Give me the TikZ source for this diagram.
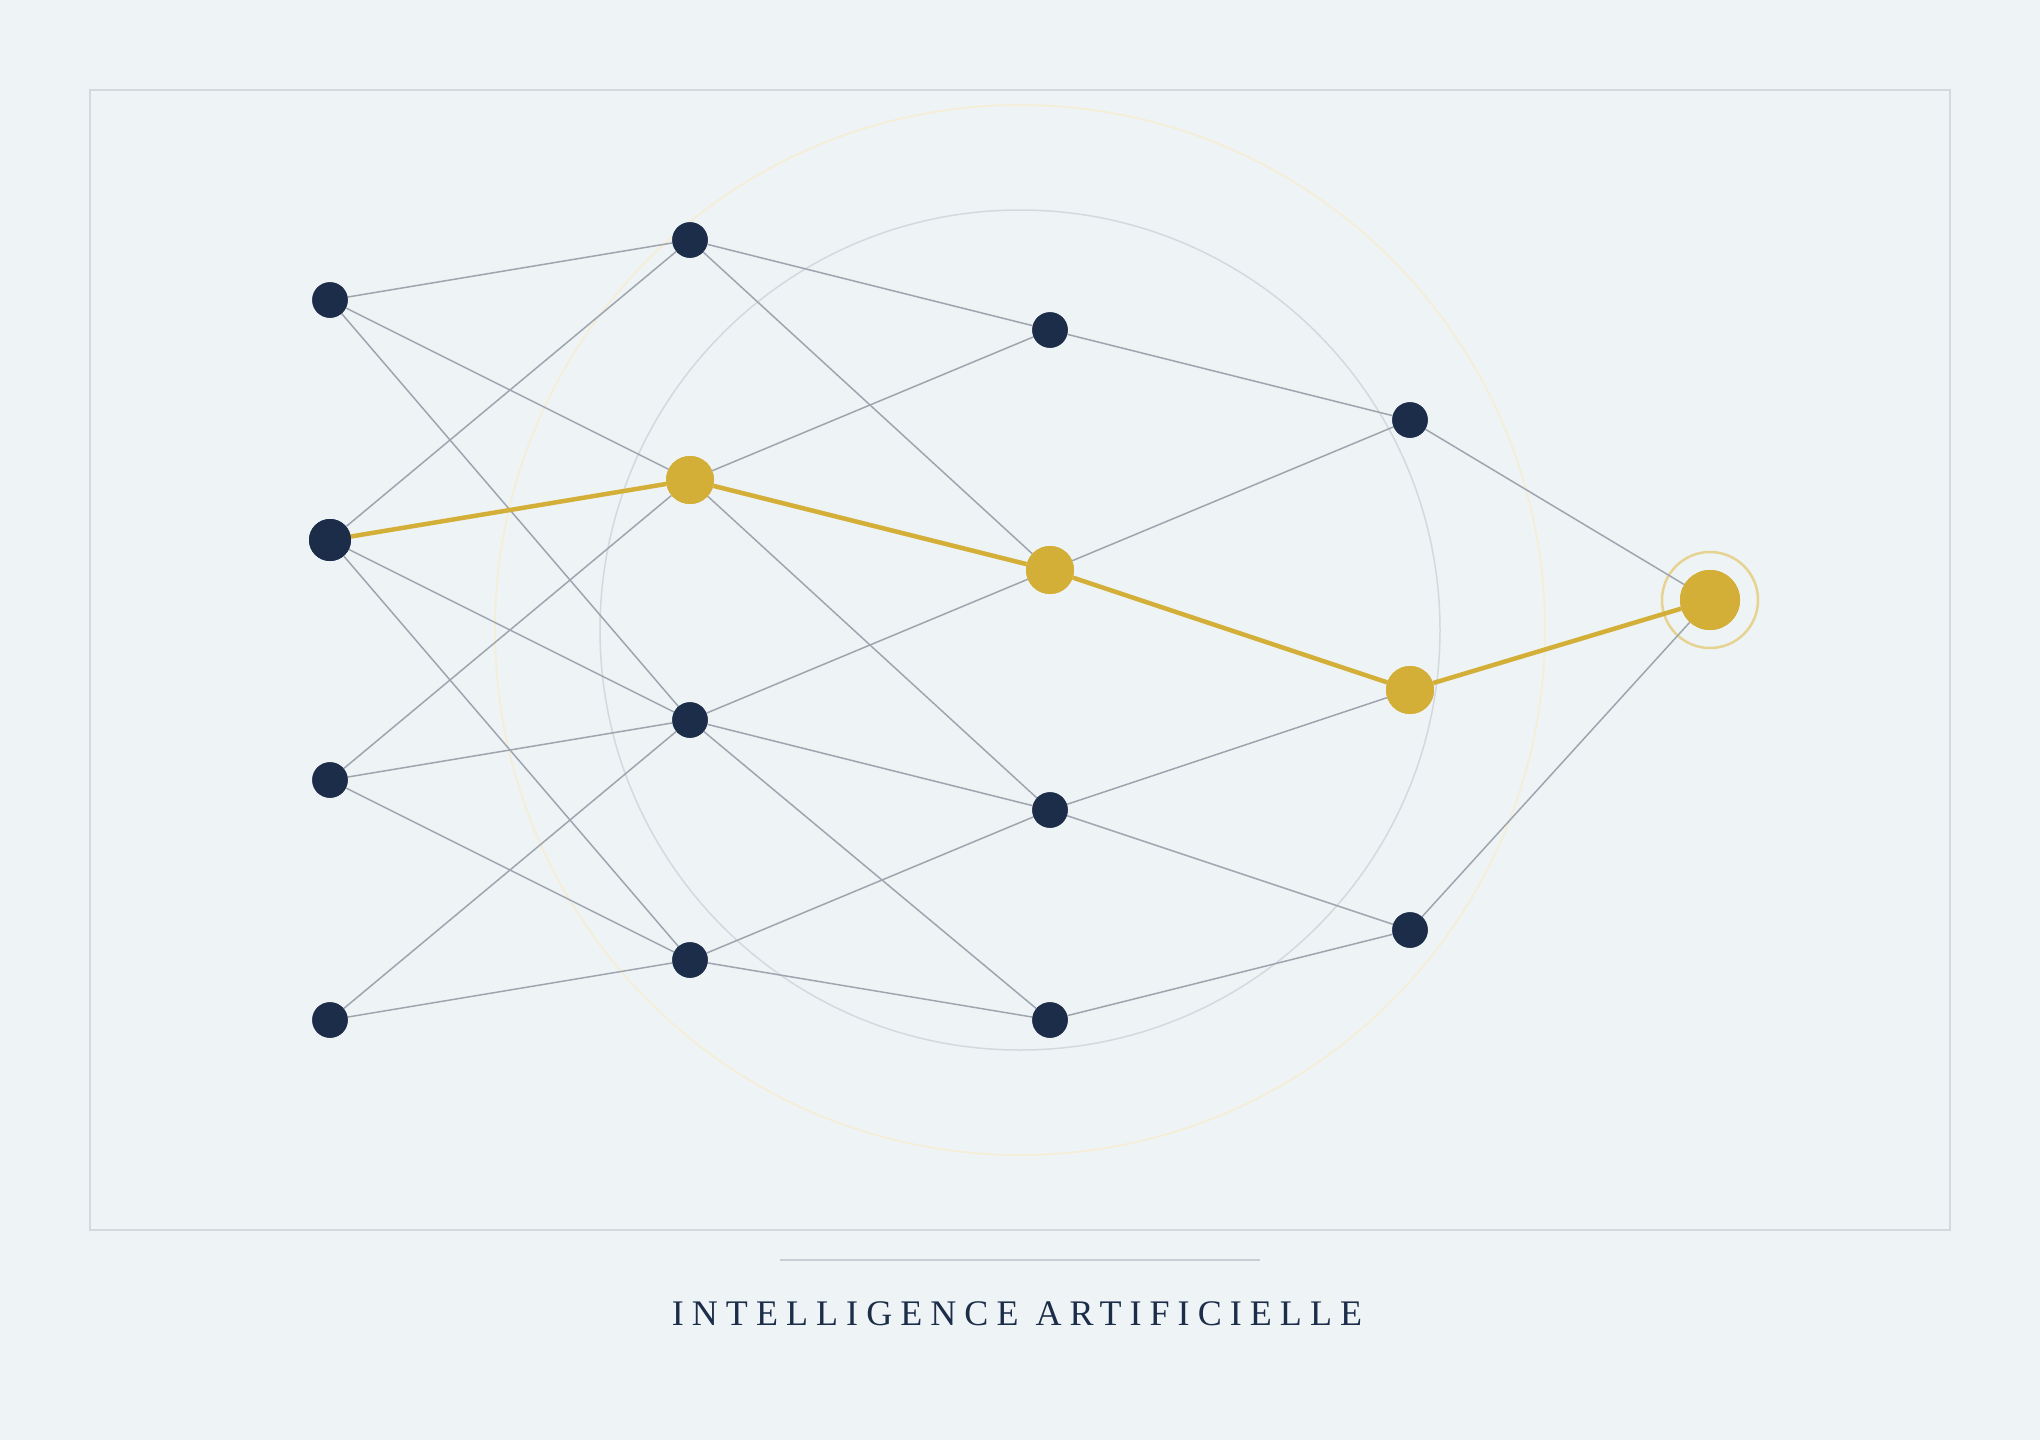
\documentclass[tikz,border=0pt]{standalone}
\usepackage{fontspec}
\setmainfont{Liberation Serif}
\newfontfamily\titlefont[LetterSpace=22.4]{Liberation Serif}
\usepackage{tikz}
\usetikzlibrary{positioning}
\definecolor{navy}{HTML}{1C2D4A}
\definecolor{gold}{HTML}{D4AF37}
\definecolor{wire}{HTML}{9EA5AE}
\definecolor{paper}{HTML}{EEF3F6}
\definecolor{frame}{HTML}{D3D9DE}
\tikzset{
    neuron/.style={circle, fill=navy, inner sep=0pt, minimum size=35.5pt},
    hot/.style={circle, fill=gold, inner sep=0pt, minimum size=48pt},
    link/.style={draw=wire, line width=1.5pt},
    path/.style={draw=gold, line width=4.5pt}}

\begin{document}
\begin{tikzpicture}[x=1pt,y=-1pt]
    \useasboundingbox[fill=paper] (0,0) rectangle (2040,1440);
    % background rings and frame
    \draw[gold!22, line width=1.5pt] (1020,630) circle (525);
    \draw[frame, line width=1.5pt] (1020,630) circle (420);
    \draw[frame, line width=2pt] (90,90) rectangle (1950,1230);

    \node[neuron] (l1-1) at (330,300) {};
    \node[neuron, minimum size=42pt] (l1-2) at (330,540) {};
    \node[neuron] (l1-3) at (330,780) {};
    \node[neuron] (l1-4) at (330,1020) {};

    \node[neuron] (l2-1) at (690,240) {};
    \node[hot] (l2-2) at (690,480) {};
    \node[neuron] (l2-3) at (690,720) {};
    \node[neuron] (l2-4) at (690,960) {};

    \node[neuron] (l3-1) at (1050,330) {};
    \node[hot] (l3-2) at (1050,570) {};
    \node[neuron] (l3-3) at (1050,810) {};
    \node[neuron] (l3-4) at (1050,1020) {};

    \node[neuron] (l4-1) at (1410,420) {};
    \node[hot] (l4-2) at (1410,690) {};
    \node[neuron] (l4-3) at (1410,930) {};

    \node[hot, minimum size=60pt] (out) at (1710,600) {};
    \node[circle, draw=gold!55, line width=2.5pt, minimum size=96pt] (halo) at (out) {};

    \path[link]
    (l1-1) edge (l2-1) (l1-1) edge (l2-2) (l1-1) edge (l2-3)
    (l1-2) edge (l2-1) (l1-2) edge (l2-3) (l1-2) edge (l2-4)
    (l1-3) edge (l2-2) (l1-3) edge (l2-3) (l1-3) edge (l2-4)
    (l1-4) edge (l2-3) (l1-4) edge (l2-4)
    (l2-1) edge (l3-1) (l2-1) edge (l3-2)
    (l2-2) edge (l3-1) (l2-2) edge (l3-3)
    (l2-3) edge (l3-2) (l2-3) edge (l3-3) (l2-3) edge (l3-4)
    (l2-4) edge (l3-3) (l2-4) edge (l3-4)
    (l3-1) edge (l4-1)
    (l3-2) edge (l4-1)
    (l3-3) edge (l4-2) (l3-3) edge (l4-3)
    (l3-4) edge (l4-3)
    (l4-1) edge (out)
    (l4-3) edge (out);

    \path[path]
    (l1-2) edge (l2-2)
    (l2-2) edge (l3-2)
    (l3-2) edge (l4-2)
    (l4-2) edge (out);

    % redraw nodes above the wires
    \foreach \n in {l1-1,l1-3,l1-4,l2-1,l2-3,l2-4,l3-1,l3-3,l3-4,l4-1,l4-3}
        \node[neuron] at (\n) {};
    \node[neuron, minimum size=42pt] at (l1-2) {};
    \foreach \n in {l2-2,l3-2,l4-2}
        \node[hot] at (\n) {};
    \node[hot, minimum size=60pt] at (out) {};

    \coordinate (rule-l) at (780,1260);
    \coordinate (rule-r) at (1260,1260);
    \draw[frame!80!wire, line width=2pt] (rule-l) -- (rule-r);
    \node[anchor=base, text=navy, inner sep=0pt, font=\titlefont\fontsize{36}{43}\selectfont] (title) at (1017,1325) {INTELLIGENCE ARTIFICIELLE};
\end{tikzpicture}
\end{document}
